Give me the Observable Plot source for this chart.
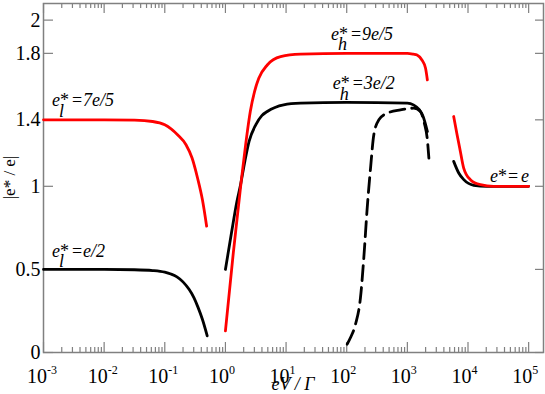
<!DOCTYPE html>
<html><head><meta charset="utf-8">
<script src="https://cdn.jsdelivr.net/npm/d3@7"></script>
<script src="https://cdn.jsdelivr.net/npm/@observablehq/plot@0.6"></script>
<style>body{margin:0;background:#fff} svg{display:block}</style>
</head><body><div id="chart"></div>
<script>
// ---- data (x given as log10 exponents of eV/Γ) ----
const lowBlackExp = [-3, -2, -1.5, -1.2, -1.0, -0.9, -0.8, -0.7, -0.6, -0.52, -0.45, -0.38, -0.30];
const lowBlackVal = [0.5, 0.5, 0.498, 0.493, 0.483, 0.472, 0.455, 0.425, 0.38, 0.33, 0.27, 0.20, 0.10];
const lowRedExp = [-3, -2, -1.5, -1.2, -1.0, -0.79, -0.65, -0.55, -0.46, -0.38, -0.31];
const lowRedVal = [1.4, 1.4, 1.398, 1.39, 1.37, 1.31, 1.25, 1.17, 1.05, 0.92, 0.76];
const midBlackExp = [0, 0.1, 0.19, 0.25, 0.32, 0.39, 0.5, 0.6, 0.69, 0.96, 1.24, 2, 3, 3.1, 3.2, 3.26, 3.33];
const midBlackVal = [0.5, 0.72, 0.91, 1.01, 1.15, 1.27, 1.37, 1.425, 1.45, 1.49, 1.5, 1.505, 1.5, 1.49, 1.46, 1.42, 1.33];
const midRedExp = [0, 0.13, 0.26, 0.34, 0.41, 0.48, 0.55, 0.69, 0.91, 1.24, 2, 3, 3.1, 3.16, 3.24, 3.30, 3.33];
const midRedVal = [0.13, 0.6, 1.03, 1.27, 1.45, 1.57, 1.65, 1.73, 1.78, 1.795, 1.8, 1.8, 1.795, 1.79, 1.76, 1.71, 1.64];
const dashExp = [2.008, 2.063, 2.145, 2.227, 2.282, 2.338, 2.393, 2.447, 2.53, 2.667, 2.886, 3.106, 3.216, 3.28, 3.33, 3.355];
const dashVal = [0.05, 0.09, 0.17, 0.33, 0.57, 0.87, 1.11, 1.31, 1.40, 1.44, 1.46, 1.47, 1.45, 1.38, 1.28, 1.17];
const highBlackExp = [3.764, 3.847, 3.93, 4.094, 4.31, 5];
const highBlackVal = [1.15, 1.08, 1.04, 1.006, 1.0, 1.0];
const highRedExp = [3.764, 3.82, 3.874, 3.929, 4.039, 4.204, 4.423, 5];
const highRedVal = [1.42, 1.31, 1.21, 1.11, 1.04, 1.01, 1.0, 1.0];

const xTickExps = [-3, -2, -1, 0, 1, 2, 3, 4, 5];
const xTickLabelExps = ["-3", "-2", "-1", "0", "1", "2", "3", "4", "5"];
const yTicks = [0, 0.5, 1, 1.4, 1.8, 2];
const yTickLabels = ["0", "0.5", "1", "1.4", "1.8", "2"];

// annotation labels anchored at (exp, value) = baseline-left of the leading "e"
const annoBase = ["e", "e", "e", "e", "e"];
const annoSub = ["l", "l", "h", "h", ""];
const annoRest = ["7e/5", "e/2", "9e/5", "3e/2", "e"];
const annoExp = [-2.85, -2.85, 1.75, 1.78, 4.37];
const annoVal = [1.48, 0.572, 1.878, 1.58, 1.02];
const annoEqOff = [20, 20, 20, 20, 18];
const annoRestOff = [31, 31, 31, 31, 31];

// ---- layout ----
const W = 545, H = 394, mL = 43, mR = 2, mT = 3, mB = 42;
const innerW = W - mL - mR, innerH = H - mT - mB;
const FONT = "Liberation Serif, Times New Roman, serif";

function series(exps, vals) { return exps.map((e, i) => ({x: Math.pow(10, e), y: vals[i]})); }
const lowBlack = series(lowBlackExp, lowBlackVal);
const lowRed = series(lowRedExp, lowRedVal);
const midBlack = series(midBlackExp, midBlackVal);
const midRed = series(midRedExp, midRedVal);
const dashed = series(dashExp, dashVal);
const highBlack = series(highBlackExp, highBlackVal);
const highRed = series(highRedExp, highRedVal);

const majors = xTickExps.map(e => Math.pow(10, e));
const minors = [];
for (let e = -3; e < 5; e++) for (let k = 2; k <= 9; k++) minors.push(k * Math.pow(10, e));

const tickStyle = {stroke: "#808080", strokeWidth: 1.2};
const lineOpts = (stroke, extra = {}) => ({x: "x", y: "y", stroke, strokeWidth: 2.8, curve: "monotone-x", ...extra});

const plot = Plot.plot({
  width: W, height: H,
  marginLeft: mL, marginRight: mR, marginTop: mT, marginBottom: mB,
  x: {type: "log", domain: [1e-3, Math.pow(10, 5.245)], axis: null},
  y: {domain: [0, 2.1], axis: null},
  style: {fontFamily: FONT, background: "#fff", overflow: "visible"},
  marks: [
    Plot.ruleX(majors, {...tickStyle, insetTop: innerH - 10}),
    Plot.ruleX(majors, {...tickStyle, insetBottom: innerH - 10}),
    Plot.ruleX(minors, {...tickStyle, insetTop: innerH - 5}),
    Plot.ruleX(minors, {...tickStyle, insetBottom: innerH - 5}),
    Plot.ruleY(yTicks, {...tickStyle, insetRight: innerW - 10}),
    Plot.ruleY(yTicks, {...tickStyle, insetLeft: innerW - 8}),
    Plot.frame({stroke: "#808080", strokeWidth: 1.5}),
    Plot.text(yTicks, {frameAnchor: "left", y: d => d, text: (d, i) => yTickLabels[i],
      textAnchor: "end", dx: -3, fontSize: 20, fontFamily: FONT, fill: "black"}),
    Plot.line(lowBlack, lineOpts("black")),
    Plot.line(lowRed, lineOpts("#ff0000")),
    Plot.line(midBlack, lineOpts("black")),
    Plot.line(midRed, lineOpts("#ff0000")),
    Plot.line(dashed, lineOpts("black", {strokeDasharray: "15,7"})),
    Plot.line(highBlack, lineOpts("black")),
    Plot.line(highRed, lineOpts("#ff0000"))
  ]
});
document.getElementById("chart").appendChild(plot);

const sx = plot.scale("x"), sy = plot.scale("y");
const svg = d3.select(plot);
const g = svg.append("g").attr("fill", "black").attr("text-anchor", "start").attr("font-family", FONT);
function txt(x, y, s, size, opts = {}) {
  const t = g.append("text").attr("x", x).attr("y", y).attr("font-size", size)
    .attr("text-anchor", opts.anchor || "start").style("font-family", FONT).text(s);
  if (opts.italic) t.attr("font-style", "italic");
  if (opts.transform) t.attr("transform", opts.transform);
  return t;
}

// x tick labels 10^n
xTickExps.forEach((e, i) => {
  const px = sx.apply(Math.pow(10, e));
  txt(px + 4, H - mB + 31, "10", 20, {anchor: "end"});
  txt(px + 4, H - mB + 22, xTickLabelExps[i], 12, {anchor: "start"});
});

// axis titles
txt(mL + innerW / 2, H - 4, "eV / Γ", 18, {italic: true, anchor: "middle"});
txt(0, 0, "|e* / e|", 17, {anchor: "middle", transform: `translate(15,${mT + innerH / 2}) rotate(-90)`});

// annotations
annoBase.forEach((b, i) => {
  const ax = sx.apply(Math.pow(10, annoExp[i])), ay = sy.apply(annoVal[i]);
  txt(ax, ay, b, 18, {italic: true});
  txt(ax + 8, ay, "*", 18);
  if (annoSub[i]) txt(ax + 7, ay + 10.5, annoSub[i], 18, {italic: true});
  txt(ax + annoEqOff[i], ay, "=", 18);
  txt(ax + annoRestOff[i], ay, annoRest[i], 18, {italic: true});
});
</script>
</body></html>
